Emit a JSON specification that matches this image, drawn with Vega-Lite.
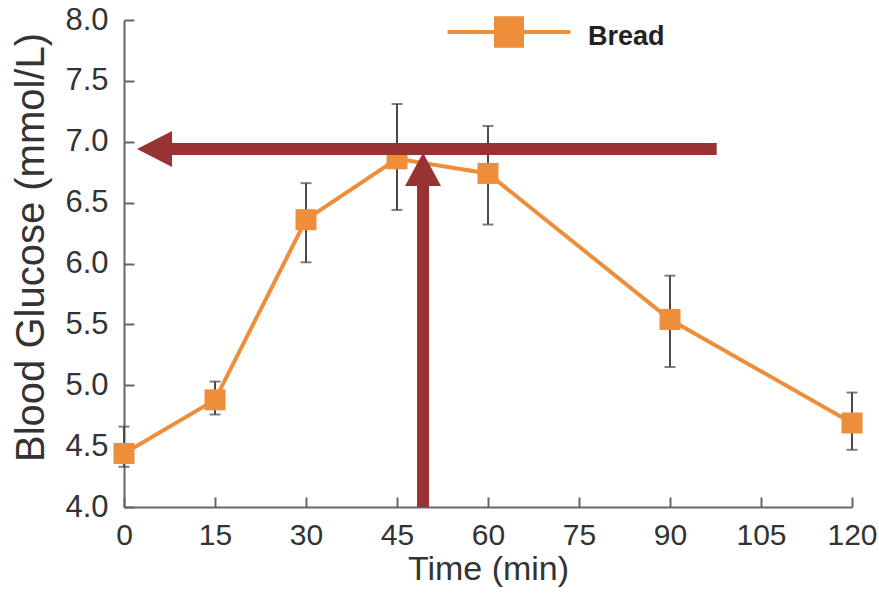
{
  "$schema": "https://vega.github.io/schema/vega-lite/v6.json",
  "width": 728,
  "height": 487,
  "autosize": {"type": "none"},
  "padding": {"left": 124, "top": 20, "right": 27, "bottom": 87},
  "background": "white",
  "config": {
    "view": {"stroke": null},
    "font": "Liberation Sans",
    "axis": {
      "grid": false,
      "domainColor": "#666666",
      "domainWidth": 2,
      "tickColor": "#666666",
      "tickWidth": 2,
      "tickSize": -10,
      "labelColor": "#333333",
      "titleColor": "#333333",
      "labelFont": "Liberation Sans",
      "titleFont": "Liberation Sans",
      "titleFontWeight": "normal"
    },
    "axisX": {"labelFontSize": 30, "titleFontSize": 34, "labelPadding": 23, "titleY": 45, "titleBaseline": "top", "labelFlush": false},
    "axisY": {"labelFontSize": 31, "titleFontSize": 40, "labelPadding": 26, "titleX": -73, "titleY": 227, "titleAngle": -90, "titleBaseline": "bottom", "titleAlign": "center"}
  },
  "datasets": {
    "glucose": [
      {"time": 0, "mean": 4.44, "lo": 4.33, "hi": 4.66, "food": "Bread"},
      {"time": 15, "mean": 4.88, "lo": 4.76, "hi": 5.03, "food": "Bread"},
      {"time": 30, "mean": 6.36, "lo": 6.01, "hi": 6.66, "food": "Bread"},
      {"time": 45, "mean": 6.86, "lo": 6.44, "hi": 7.31, "food": "Bread"},
      {"time": 60, "mean": 6.74, "lo": 6.32, "hi": 7.13, "food": "Bread"},
      {"time": 90, "mean": 5.54, "lo": 5.15, "hi": 5.9, "food": "Bread"},
      {"time": 120, "mean": 4.69, "lo": 4.47, "hi": 4.94, "food": "Bread"}
    ],
    "arrows": [
      {"dir": "left", "x": 6, "x2": 97.7, "y": 6.94, "y2": 6.94, "tipX": 2.14, "tipY": 6.94},
      {"dir": "up", "x": 49.29, "x2": 49.29, "y": 4.0, "y2": 6.7, "tipX": 49.29, "tipY": 6.91}
    ]
  },
  "layer": [
    {
      "data": {"name": "glucose"},
      "mark": {"type": "errorbar", "ticks": {"size": 11, "thickness": 2, "color": "#4a4a4a"}, "rule": {"strokeWidth": 2, "color": "#4a4a4a"}},
      "encoding": {
        "x": {"field": "time", "type": "quantitative", "title": "Time (min)",
              "scale": {"domain": [0, 120], "nice": false, "zero": false},
              "axis": {"values": [0, 15, 30, 45, 60, 75, 90, 105, 120]}},
        "y": {"field": "lo", "type": "quantitative", "title": "Blood Glucose (mmol/L)",
              "scale": {"domain": [4, 8], "nice": false, "zero": false},
              "axis": {"values": [4, 4.5, 5, 5.5, 6, 6.5, 7, 7.5, 8], "format": ".1f"}},
        "y2": {"field": "hi"}
      }
    },
    {
      "data": {"name": "glucose"},
      "mark": {"type": "line", "color": "#EE8E3B", "strokeWidth": 4},
      "encoding": {
        "x": {"field": "time", "type": "quantitative", "title": "Time (min)"},
        "y": {"field": "mean", "type": "quantitative", "title": "Blood Glucose (mmol/L)"}
      }
    },
    {
      "data": {"name": "glucose"},
      "mark": {"type": "point", "shape": "square", "filled": true, "size": 441, "opacity": 1},
      "encoding": {
        "x": {"field": "time", "type": "quantitative", "title": "Time (min)"},
        "y": {"field": "mean", "type": "quantitative", "title": "Blood Glucose (mmol/L)"},
        "color": {"field": "food", "type": "nominal", "scale": {"range": ["#EE8E3B"]},
          "legend": {
            "title": null,
            "orient": "none",
            "legendX": 370,
            "legendY": -3,
            "padding": 0,
            "symbolType": "M -4.1 -0.13 L 4.1 -0.13 L 4.1 0.13 L -4.1 0.13 Z M -1 -1.05 L 1 -1.05 L 1 1.05 L -1 1.05 Z",
            "symbolSize": 900,
            "symbolStrokeWidth": 0,
            "symbolOpacity": 1,
            "labelFontSize": 27,
            "labelFontWeight": "bold",
            "labelColor": "#222222",
            "labelFont": "Liberation Sans",
            "labelOffset": 64,
            "encode": {"labels": {"update": {"dy": {"value": 5}}}}
          }
        }
      }
    },
    {
      "data": {"name": "arrows"},
      "mark": {"type": "rule", "color": "#973333", "strokeWidth": 12, "strokeCap": "butt"},
      "encoding": {
        "x": {"field": "x", "type": "quantitative", "title": "Time (min)"},
        "x2": {"field": "x2"},
        "y": {"field": "y", "type": "quantitative", "title": "Blood Glucose (mmol/L)"},
        "y2": {"field": "y2"}
      }
    },
    {
      "data": {"name": "arrows"},
      "mark": {"type": "point", "filled": true, "size": 1296, "opacity": 1, "color": "#973333"},
      "encoding": {
        "x": {"field": "tipX", "type": "quantitative", "title": "Time (min)"},
        "y": {"field": "tipY", "type": "quantitative", "title": "Blood Glucose (mmol/L)"},
        "shape": {"field": "dir", "type": "nominal",
          "scale": {"domain": ["left", "up"], "range": ["M 0 0 L 1.95 -1 L 1.95 1 Z", "M 0 0 L -1 1.85 L 1 1.85 Z"]},
          "legend": null}
      }
    }
  ]
}
